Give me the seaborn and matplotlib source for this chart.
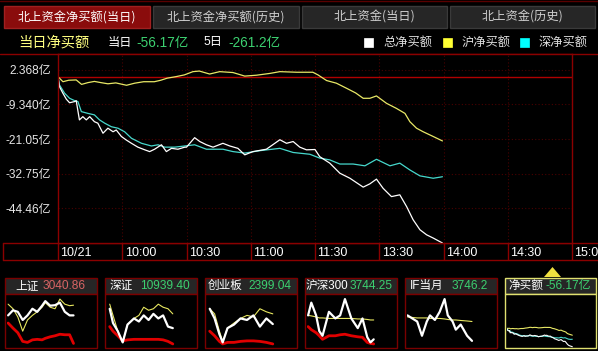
import numpy as np
import pandas as pd
import matplotlib
matplotlib.use('Agg')
import matplotlib.pyplot as plt
import seaborn as sns
from matplotlib.patches import Rectangle, Polygon
from matplotlib.transforms import ScaledTranslation
from matplotlib.ticker import FixedLocator

# ---------------- data (main chart, minutes since 9:30 in trading time, 亿元) ----------------
total_min = [0, 0.7, 2.3, 3.9, 5.4, 7.8, 8.5, 10, 11.6, 13.2, 14.8, 17, 18.6, 21, 23.3, 25.7, 27.2,
             29.6, 31.9, 34.3, 37.3, 40.5, 42.8, 45.1, 48.3, 50.6, 53, 56, 59.2, 60, 63.8, 66.2,
             69.3, 72.4, 77, 80.2, 84, 87.2, 91, 97.3, 103.6, 106.7, 109.8, 112.9, 116, 120,
             122.2, 126.9, 131.6, 136.3, 142.5, 145.6, 148.7, 151.8, 155.7, 159.6, 162.8, 165.8,
             169, 172.1, 175.2, 179.5]
total_val = [0, -3.4, -5.6, -7.6, -8.8, -8.4, -8.1, -14.6, -13.5, -14.6, -13.5, -15.2, -15.7,
             -19.1, -17.4, -18.6, -18.0, -20.2, -21.4, -22.5, -23.8, -24.7, -25.3, -24.5, -23.0,
             -25.3, -24.2, -24.5, -23.8, -23.8, -20.6, -21.9, -23.0, -23.8, -22.5, -23.4, -24.2,
             -26.4, -25.3, -24.5, -21.3, -22.5, -21.9, -23.8, -24.7, -24.6, -27.0, -29.2, -32.6,
             -34.3, -37.3, -36.2, -34.6, -37.7, -40.5, -39.9, -43.9, -48.3, -51.7, -53.4, -54.5,
             -56.17]

sh_min = [0, 2.3, 5, 8.5, 11, 14, 17, 20, 23.3, 27, 32, 35.8, 40, 45, 48, 51, 55, 59, 63, 66,
          70.8, 75.5, 81.7, 87.2, 92.7, 98.9, 103.6, 111.4, 119, 121.4, 125.4, 130, 134.7, 139,
          142.5, 145.6, 148.7, 153.4, 158, 162, 164.3, 167.4, 170.5, 175.2, 179.5]
sh_val = [0, -1.7, -1.2, -1.1, -2.6, -2.0, -1.6, -2.0, -2.4, -2.1, -2.9, -2.2, -1.7, -1.7, -1.2,
          -0.5, 0.0, 0.6, 1.7, 1.9, 0.9, 1.7, 1.4, 0.2, 0.5, 1.1, 1.7, 1.5, 1.5, 0.6, -1.3, -2.2,
          -3.9, -5.5, -7.3, -7.3, -6.5, -9.0, -10.7, -12.4, -15.2, -17.4, -18.6, -20.2, -21.7]

sz_min = [0, 0.7, 3.1, 5.4, 7.8, 9.3, 10.9, 14, 17, 19.4, 21.8, 24.9, 28, 31.1, 34.3, 39, 43.6,
          46.7, 49.8, 54.5, 59.2, 63.8, 69.3, 77, 81.7, 87.2, 94.2, 103.6, 109.8, 117.6, 122.2,
          126.9, 131.6, 137.8, 143.3, 148.7, 155, 159.6, 164.3, 169, 175.2, 179.5]
sz_val = [0, -2.8, -5.6, -7.3, -8.1, -8.4, -11.8, -12.4, -12.9, -14.6, -15.7, -16.9, -17.4,
          -18.6, -20.8, -22.5, -23.4, -23.0, -23.8, -23.8, -23.4, -23.0, -24.5, -24.5, -25.3,
          -25.8, -25.0, -24.2, -25.6, -26.2, -27.5, -28.1, -29.5, -29.5, -30.1, -27.9, -30.1,
          -29.2, -31.5, -33.5, -34.3, -33.8]

y_ticks = [2.368, -9.340, -21.05, -32.75, -44.46]
y_tick_labels = ['2.368亿', '-9.340亿', '-21.05亿', '-32.75亿', '-44.46亿']
x_ticks = [0, 30, 60, 90, 120, 150, 180, 210, 240]
x_tick_labels = ['10/21', '10:00', '10:30', '11:00', '11:30', '13:30', '14:00', '14:30', '15:00']

tabs = ['北上资金净买额(当日)', '北上资金净买额(历史)', '北上资金(当日)', '北上资金(历史)']
series_names = ['总净买额', '沪净买额', '深净买额']
today_net = '-56.17亿'
five_day_net = '-261.2亿'

# ---------------- mini panels (fraction of day, normalised level) ----------------
p1_t = [0.018, 0.073, 0.127, 0.182, 0.236, 0.291, 0.345, 0.4, 0.436, 0.491, 0.545, 0.6, 0.655, 0.709, 0.753]
p1_white = [0.61, 0.71, 0.68, 0.52, 0.61, 0.74, 0.68, 0.80, 0.89, 0.80, 0.81, 0.86, 0.68, 0.61, 0.61]
p1_yellow = [0.83, 0.74, 0.58, 0.30, 0.52, 0.61, 0.68, 0.77, 0.86, 0.77, 0.74, 0.93, 0.83, 0.80, 0.81]
p1_red = [0.46, 0.36, 0.27, 0.10, 0.08, 0.13, 0.14, 0.13, 0.16, 0.19, 0.21, 0.24, 0.23, 0.23, 0.06]

p2_t = [0.036, 0.073, 0.127, 0.182, 0.236, 0.309, 0.364, 0.418, 0.473, 0.527, 0.582, 0.636, 0.691, 0.745]
p2_white = [0.74, 0.46, 0.30, 0.08, 0.43, 0.55, 0.49, 0.61, 0.52, 0.64, 0.55, 0.61, 0.39, 0.36]
p2_yellow = [0.83, 0.61, 0.30, 0.08, 0.43, 0.55, 0.61, 0.77, 0.71, 0.74, 0.83, 0.77, 0.74, 0.64]
p2_red = [0.39, 0.30, 0.21, 0.11, 0.13, 0.14, 0.14, 0.14, 0.14, 0.14, 0.14, 0.13, 0.10, 0.05]

p3_t = [0.036, 0.091, 0.145, 0.182, 0.236, 0.309, 0.382, 0.455, 0.527, 0.6, 0.673, 0.745]
p3_white = [0.74, 0.55, 0.24, 0.08, 0.36, 0.43, 0.55, 0.52, 0.61, 0.39, 0.55, 0.44]
p3_yellow = [0.74, 0.64, 0.30, 0.10, 0.36, 0.46, 0.55, 0.61, 0.58, 0.74, 0.68, 0.64]
p3_red = [0.30, 0.21, 0.10, 0.05, 0.08, 0.08, 0.10, 0.11, 0.11, 0.10, 0.08, 0.05]

p4_t = [0.018, 0.054, 0.108, 0.144, 0.18, 0.252, 0.324, 0.378, 0.432, 0.504, 0.576, 0.629, 0.683, 0.719, 0.755]
p4_white = [0.61, 0.86, 0.61, 0.30, 0.21, 0.68, 0.55, 0.61, 0.93, 0.55, 0.36, 0.55, 0.18, 0.08, 0.14]
p4_yellow = [0.61, 0.60, 0.58, 0.56, 0.56, 0.55, 0.55, 0.55, 0.55, 0.55, 0.54, 0.54, 0.53, 0.52, 0.52]
p4_red = [0.39, 0.33, 0.27, 0.21, 0.14, 0.21, 0.21, 0.23, 0.24, 0.21, 0.19, 0.18, 0.08, 0.06, 0.05]

p5_t = [0.011, 0.065, 0.12, 0.174, 0.228, 0.264, 0.319, 0.373, 0.428, 0.464, 0.518, 0.554, 0.609, 0.681, 0.736]
p5_white = [0.61, 0.55, 0.49, 0.21, 0.49, 0.61, 0.52, 0.68, 0.93, 0.61, 0.49, 0.33, 0.43, 0.21, 0.11]
p5_yellow = [0.58, 0.57, 0.56, 0.56, 0.56, 0.55, 0.55, 0.55, 0.54, 0.53, 0.52, 0.52, 0.51, 0.50, 0.49]

panel_names = ['上证', '深证', '创业板', '沪深300', 'IF当月', '净买额']
panel_values = ['3040.86', '10939.40', '2399.04', '3744.25', '3746.2', '-56.17亿']

# ---------------- style ----------------
sns.set_theme(style='dark')
plt.rcParams['font.family'] = ['Noto Sans CJK SC', 'DejaVu Sans']
plt.rcParams['axes.unicode_minus'] = False

CJK = ['Noto Sans CJK SC', 'DejaVu Sans']
NUM = ['Liberation Sans', 'Noto Sans CJK SC']
RED = '#8b0000'
GRID = '#4a0000'
GREEN = '#3cd070'
C_WHITE, C_YELLOW, C_CYAN = '#ffffff', '#e8e866', '#46d8cc'

W, H = 598, 351
fig = plt.figure(figsize=(W / 100, H / 100), dpi=100, facecolor='black')

# overlay in pixel coordinates for frames/tabs/text
ov = fig.add_axes([0, 0, 1, 1], zorder=0)
ov.set_xlim(0, W)
ov.set_ylim(H, 0)
ov.axis('off')


def rect(x0, y0, x1, y1, fc='none', ec=RED, lw=1.0, z=1):
    ov.add_patch(Rectangle((x0, y0), x1 - x0, y1 - y0, facecolor=fc, edgecolor=ec, lw=lw, zorder=z))


# top frame line
ov.plot([0, W], [1, 1], color='#5a0000', lw=1)
# tabs
tab_x = [(4, 150), (153, 299), (302, 447), (450, 595)]
for i, ((a, b), name) in enumerate(zip(tab_x, tabs)):
    if i == 0:
        rect(a, 6, b, 28, fc='#8a0c0c', ec='#a02020')
        col = '#ffffff'
    else:
        rect(a, 6, b, 28, fc='#262626', ec='#3a3a3a')
        col = '#d0d0d0'
    ov.text((a + b) / 2, 17.5, name, color=col, fontsize=8.8, ha='center', va='center', family=CJK)

# header row
ov.text(18, 42.5, '当日净买额', color='#ffff80', fontsize=10.3, ha='left', va='center', family=CJK)
ov.text(108, 42.5, '当日', color='white', fontsize=8.8, ha='left', va='center', family=CJK)
ov.text(136, 42.5, today_net, color=GREEN, fontsize=9.8, ha='left', va='center', family=NUM)
ov.text(204, 42.5, '5日', color='white', fontsize=8.8, ha='left', va='center', family=NUM)
ov.text(228, 42.5, five_day_net, color=GREEN, fontsize=9.8, ha='left', va='center', family=NUM)
leg_sq = [364, 443, 520]
leg_cols = ['#ffffff', '#ffff33', '#00ffff']
for xs, c, nm in zip(leg_sq, leg_cols, series_names):
    rect(xs, 37.5, xs + 9, 46.5, fc=c, ec=c, lw=0.5)
    ov.text(xs + 19, 42.5, nm, color='#e0e0e0', fontsize=8.8, ha='left', va='center', family=CJK)

# frame lines
ov.plot([0, W], [54, 54], color=RED, lw=1)
ov.plot([3, W], [243, 243], color=RED, lw=1)
ov.plot([3, W], [260, 260], color=RED, lw=1)
ov.plot([3, 3], [243, 260], color=RED, lw=1)

# ---------------- main chart ----------------
L, R, T, B = 58, 572, 54, 243
ax = fig.add_axes([L / W, (H - B) / H, (R - L) / W, (B - T) / H], zorder=2)
ax.set_facecolor('black')
ax.set_xlim(0, 240)
ax.set_ylim(-56.17, 7.66)

ax.set_yticks(y_ticks)
ax.set_yticklabels(y_tick_labels)
ax.set_xticks(x_ticks)
ax.set_xticklabels(x_tick_labels)
ax.xaxis.set_minor_locator(FixedLocator(x_ticks))
ax.xaxis.remove_overlapping_locs = False
ax.grid(True, which='major', color=GRID, ls=(0, (1, 2)), lw=0.8)
ax.tick_params(axis='y', length=0, pad=5, labelcolor='#e6e6e6', labelsize=8.6)
ax.tick_params(axis='x', which='major', bottom=True, length=0, pad=3, labelcolor='white', labelsize=9)
ax.tick_params(axis='x', which='minor', bottom=True, length=17 * 0.72, width=1, color=RED,
               direction='out')
for lbl in ax.get_yticklabels():
    lbl.set_fontfamily(NUM)
off = ScaledTranslation(2.5 / 100, 0, fig.dpi_scale_trans)
for lbl in ax.get_xticklabels():
    lbl.set_fontfamily(['Liberation Sans', 'DejaVu Sans'])
    lbl.set_horizontalalignment('left')
    lbl.set_transform(lbl.get_transform() + off)
for s in ax.spines.values():
    s.set_color(RED)
    s.set_linewidth(1)

ax.axhline(0, color='#b00000', lw=1, zorder=1)
sns.lineplot(x=sh_min, y=sh_val, ax=ax, color=C_YELLOW, lw=0.9, estimator=None, sort=False)
sns.lineplot(x=sz_min, y=sz_val, ax=ax, color=C_CYAN, lw=0.9, estimator=None, sort=False)
sns.lineplot(x=total_min, y=total_val, ax=ax, color=C_WHITE, lw=0.9, estimator=None, sort=False)
ax.set_xlabel('')
ax.set_ylabel('')

# ---------------- mini panels ----------------
panel_x = [(5, 97), (105, 197), (205, 297), (305, 397), (405, 497), (505, 596)]
panel_lines = [
    (p1_t, p1_white, p1_yellow, p1_red),
    (p2_t, p2_white, p2_yellow, p2_red),
    (p3_t, p3_white, p3_yellow, p3_red),
    (p4_t, p4_white, p4_yellow, p4_red),
    (p5_t, p5_white, p5_yellow, None),
]
name_x = [15, 110, 208, 306, 410, 508]
val_x = [43, 140, 248, 350, 452, 545]
for i, ((a, b), nm, val) in enumerate(zip(panel_x, panel_names, panel_values)):
    ec = '#e0e070' if i == 5 else '#7a0000'
    rect(a, 278, b, 294, fc='#262626', ec=ec)
    rect(a, 294, b, 348, fc='black', ec=ec)
    ov.text(name_x[i], 286, nm, color='white', fontsize=8.4, ha='left', va='center',
            family=['Liberation Sans', 'Noto Sans CJK SC'])
    vcol = '#d86464' if i == 0 else GREEN
    ov.text(val_x[i], 286, val, color=vcol, fontsize=8.6, ha='left', va='center',
            family=NUM)
    max_ = fig.add_axes([(a + 1.5) / W, (H - 347.5) / H, (b - a - 3) / W, 52 / H], zorder=3)
    max_.set_facecolor('black')
    max_.set_axis_off()
    max_.set_xlim(0, 1)
    if i < 5:
        t, wv, yv, rv = panel_lines[i]
        max_.set_ylim(-0.02, 1.0)
        if rv is not None:
            sns.lineplot(x=t, y=rv, ax=max_, color='#e00000', lw=2.0, estimator=None, sort=False)
        sns.lineplot(x=t, y=yv, ax=max_, color='#e8e860', lw=0.8, estimator=None, sort=False)
        sns.lineplot(x=t, y=wv, ax=max_, color='white', lw=1.6, estimator=None, sort=False)
    else:
        max_.set_ylim(-58.5, 97)
        sns.lineplot(x=np.array(sh_min) / 240, y=sh_val, ax=max_, color=C_YELLOW, lw=0.8,
                     estimator=None, sort=False)
        sns.lineplot(x=np.array(sz_min) / 240, y=sz_val, ax=max_, color=C_CYAN, lw=0.8,
                     estimator=None, sort=False)
        sns.lineplot(x=np.array(total_min) / 240, y=total_val, ax=max_, color='white', lw=0.8,
                     estimator=None, sort=False)

# highlight triangle above last panel
ov.add_patch(Polygon([[544, 277], [561, 277], [552.5, 267]], closed=True,
                     facecolor='#f0e040', edgecolor='none', zorder=2))

fig.savefig('out.png', dpi=100, facecolor='black')
